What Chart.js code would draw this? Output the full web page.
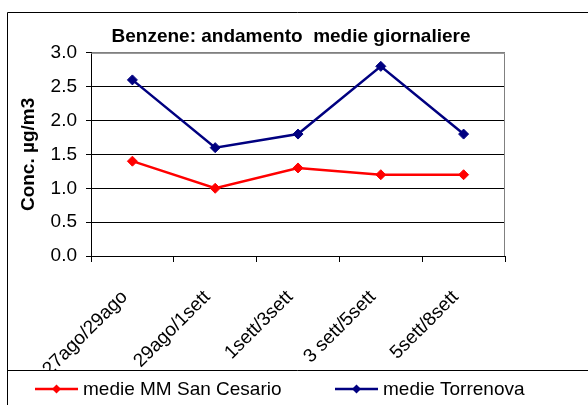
<!DOCTYPE html>
<html>
<head>
<meta charset="utf-8">
<script src="https://cdn.jsdelivr.net/npm/chart.js@4"></script>
<style>
  html, body { margin: 0; padding: 0; background: #fff; }
  #wrap { width: 588px; height: 405px; position: relative; }
</style>
</head>
<body>
<div id="wrap"><canvas id="benzeneChart"></canvas></div>
<script>
// Dati
const periodi = ['27ago/29ago', '29ago/1sett', '1sett/3sett', '3 sett/5sett', '5sett/8sett'];
const sanCesario = [1.4, 1.0, 1.3, 1.2, 1.2];
const torrenova = [2.6, 1.6, 1.8, 2.8, 1.8];
const nomiSerie = ['medie MM San Cesario', 'medie Torrenova'];
const coloriSerie = ['#FF0000', '#000080'];

const FONT = '"Liberation Sans", Arial, sans-serif';

// cornice esterna, bordo grigio dell'area del grafico e legenda in basso
const cornice = {
    id: 'cornice',
    beforeDatasetsDraw(chart) {
        const a = chart.chartArea;
        const c = chart.ctx;
        c.save();
        c.strokeStyle = '#808080';
        c.lineWidth = 1;
        c.beginPath();
        c.moveTo(a.left, a.top + 0.5);
        c.lineTo(a.right - 0.5, a.top + 0.5);
        c.lineTo(a.right - 0.5, a.bottom);
        c.stroke();
        c.restore();
    },
    afterDraw(chart) {
        const c = chart.ctx;
        const W = chart.width, H = chart.height;
        const legTop = 370.5;
        c.save();
        c.fillStyle = '#fff';
        c.fillRect(8, legTop, W, H);
        c.strokeStyle = '#000';
        c.lineWidth = 1;
        c.beginPath();
        c.moveTo(7.5, H);
        c.lineTo(7.5, 12.5);
        c.lineTo(W, 12.5);
        c.moveTo(7.5, legTop);
        c.lineTo(W, legTop);
        c.stroke();

        const startX = [35, 335];
        const y = 389;
        chart.data.datasets.forEach((ds, i) => {
            const x0 = startX[i];
            c.strokeStyle = ds.borderColor;
            c.lineWidth = 2.5;
            c.beginPath();
            c.moveTo(x0, y);
            c.lineTo(x0 + 43, y);
            c.stroke();
            const cx = x0 + 21.5, r = 4.5;
            c.fillStyle = ds.borderColor;
            c.beginPath();
            c.moveTo(cx, y - r);
            c.lineTo(cx + r, y);
            c.lineTo(cx, y + r);
            c.lineTo(cx - r, y);
            c.closePath();
            c.fill();
            c.fillStyle = '#000';
            c.font = '19px ' + FONT;
            c.textBaseline = 'middle';
            c.textAlign = 'left';
            c.fillText(ds.label, x0 + 48, y + 1);
        });
        c.restore();
    }
};

const serie = [sanCesario, torrenova].map((valori, i) => ({
    label: nomiSerie[i],
    data: valori,
    borderColor: coloriSerie[i],
    backgroundColor: coloriSerie[i],
    borderWidth: 2.5,
    pointStyle: 'rectRot',
    pointRadius: 5,
    pointHoverRadius: 5,
    pointBorderWidth: 1,
    tension: 0
}));

new Chart(document.getElementById('benzeneChart'), {
    type: 'line',
    data: { labels: periodi, datasets: serie },
    options: {
        responsive: true,
        maintainAspectRatio: false,
        animation: false,
        layout: { padding: { left: 8, top: 12, right: 14, bottom: 35 } },
        plugins: {
            legend: { display: false },
            tooltip: { enabled: false },
            title: {
                display: true,
                text: 'Benzene: andamento  medie giornaliere',
                color: '#000',
                font: { family: FONT, size: 19, weight: 'bold' },
                padding: { top: 13, bottom: 5 }
            }
        },
        scales: {
            x: {
                offset: true,
                afterFit: s => { s.height = 114; },
                grid: { offset: true, drawOnChartArea: false, color: '#000', tickLength: 6 },
                border: { color: '#000', width: 1 },
                ticks: {
                    color: '#000',
                    minRotation: 45,
                    maxRotation: 45,
                    padding: 24,
                    labelOffset: -8,
                    font: { family: FONT, size: 19 }
                }
            },
            y: {
                min: 0,
                max: 3,
                afterFit: s => { s.width = 83; },
                grid: {
                    color: ctx => (ctx.tick && ctx.tick.value === 3 ? '#808080' : '#000'),
                    tickColor: '#000',
                    tickLength: 5
                },
                border: { color: '#000', width: 1 },
                ticks: {
                    stepSize: 0.5,
                    color: '#000',
                    padding: 9,
                    font: { family: FONT, size: 19 },
                    callback: v => v.toFixed(1)
                },
                title: {
                    display: true,
                    text: 'Conc. µg/m3',
                    color: '#000',
                    font: { family: FONT, size: 19, weight: 'bold' },
                    padding: { top: 9, bottom: 0 }
                }
            },
            // spazio vuoto a destra dell'area del grafico
            spazio: {
                position: 'right',
                display: true,
                afterFit: s => { s.width = 69; },
                grid: { display: false },
                border: { display: false },
                ticks: { display: false }
            }
        }
    },
    plugins: [cornice]
});
</script>
</body>
</html>
